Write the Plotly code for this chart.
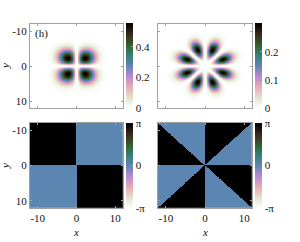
import numpy as np
import plotly.graph_objects as go

# ---- data / model parameters ----
extent = 12.0
n_grid = 241
lobe_angles = [[45, 135, 225, 315],
               [22.5, 67.5, 112.5, 157.5, 202.5, 247.5, 292.5, 337.5]]  # deg
lobe_radius = [3.2, 4.9]                      # distance of lobe cores from centre
lobe_radial_width = [2.5, 2.4]                # radial width of a lobe
lobe_tangential_width = [2.3, 1.5]            # tangential width of a lobe
nodal_angles = [[0, 90], [0, 45, 90, 135]]    # directions of the nodal lines (deg)
nodal_width = [0.8, 0.7]                      # healing length of the nodal lines
peaks = [0.55, 0.30]                          # peak density (colour range max)
density_ticks = [[0, 0.2, 0.4], [0, 0.1, 0.2]]
density_ticktext = [["0", "0.2", "0.4"], ["0", "0.1", "0.2"]]
phase_ticks = [-np.pi, 0, np.pi]
phase_ticktext = ["-π", "0", "π"]
axis_ticks = [-10, 0, 10]
axis_ticktext = ["-10", "0", "10"]
panel_label = "(h)"

colorscale = [
    [0.00, "rgb(255,255,255)"],
    [0.08, "rgb(232,240,222)"],
    [0.18, "rgb(232,200,190)"],
    [0.28, "rgb(225,160,185)"],
    [0.38, "rgb(180,135,215)"],
    [0.50, "rgb(92,134,178)"],
    [0.62, "rgb(55,128,118)"],
    [0.73, "rgb(50,100,50)"],
    [0.86, "rgb(62,42,30)"],
    [1.00, "rgb(0,0,0)"],
]

x = np.linspace(-extent, extent, n_grid)
y = np.linspace(-extent, extent, n_grid)
X, Y = np.meshgrid(x, y)

dens, phases = [], []
for m in range(2):
    blobs = np.zeros_like(X)
    for a in lobe_angles[m]:
        t = np.deg2rad(a)
        cx, cy = lobe_radius[m] * np.cos(t), lobe_radius[m] * np.sin(t)
        u = (X - cx) * np.cos(t) + (Y - cy) * np.sin(t)
        v = -(X - cx) * np.sin(t) + (Y - cy) * np.cos(t)
        blobs += np.exp(-u ** 2 / lobe_radial_width[m] ** 2
                        - v ** 2 / lobe_tangential_width[m] ** 2)
    nodes = np.ones_like(X)
    for a in nodal_angles[m]:
        t = np.deg2rad(a)
        dist = X * np.sin(t) - Y * np.cos(t)   # signed distance to nodal line
        nodes = nodes * np.tanh(dist / nodal_width[m])
    d = blobs * nodes ** 2
    dens.append(d / d.max() * peaks[m])
    phases.append(np.where(nodes < 0, np.pi, 0.0))

W, H = 300, 242
def px(a, b):
    return [a / W, b / W]
def py(top, bot):
    return [1 - bot / H, 1 - top / H]

xdom = [px(30, 123), px(158, 252)]
ydom = [py(24, 108), py(123, 208)]
cbx = [126 / W, 255 / W]

fig = go.Figure()
font = dict(family="Liberation Serif", size=11, color="#111")
frame = "#a0a0a0"

k = 0
for row in range(2):
    for col in range(2):
        k += 1
        xa = "x" if k == 1 else f"x{k}"
        ya = "y" if k == 1 else f"y{k}"
        yc = (ydom[row][0] + ydom[row][1]) / 2
        if row == 0:
            z = dens[col]
            zmin, zmax = 0, peaks[col]
            tv, tt = density_ticks[col], density_ticktext[col]
            smooth = "best"
        else:
            z = phases[col]
            zmin, zmax = -np.pi, np.pi
            tv, tt = phase_ticks, phase_ticktext
            smooth = False
        fig.add_trace(go.Heatmap(
            x=x, y=y, z=z, xaxis=xa, yaxis=ya, zmin=zmin, zmax=zmax,
            colorscale=colorscale, zsmooth=smooth, hoverinfo="skip",
            colorbar=dict(x=cbx[col], xanchor="left", y=yc, yanchor="middle",
                          thickness=7, lenmode="pixels", len=85,
                          outlinewidth=0, tickvals=tv, ticktext=tt,
                          ticks="inside", ticklen=2, tickcolor="#999",
                          tickfont=font, xpad=0, ypad=0),
        ))
        axkey_x = "xaxis" if k == 1 else f"xaxis{k}"
        axkey_y = "yaxis" if k == 1 else f"yaxis{k}"
        fig.layout[axkey_x] = dict(
            domain=xdom[col], range=[-extent, extent], anchor=ya,
            showline=True, linecolor=frame, linewidth=1, mirror="ticks",
            ticks="inside", ticklen=2, tickcolor=frame,
            tickvals=axis_ticks, ticktext=axis_ticktext,
            showticklabels=(row == 1), tickfont=font, showgrid=False, zeroline=False)
        fig.layout[axkey_y] = dict(
            domain=ydom[row], range=[extent, -extent], anchor=xa,
            showline=True, linecolor=frame, linewidth=1, mirror="ticks",
            ticks="inside", ticklen=2, tickcolor=frame,
            tickvals=axis_ticks, ticktext=axis_ticktext,
            showticklabels=(col == 0), tickfont=font, showgrid=False, zeroline=False)

ann = [
    dict(x=5 / W, y=1 - 66 / H, text="<i>y</i>", textangle=-90),
    dict(x=5 / W, y=1 - 166 / H, text="<i>y</i>", textangle=-90),
    dict(x=76 / W, y=1 - 232 / H, text="<i>x</i>"),
    dict(x=205 / W, y=1 - 232 / H, text="<i>x</i>"),
    dict(x=41 / W, y=1 - 33 / H, text=panel_label),
]
for a in ann:
    fig.add_annotation(xref="paper", yref="paper", showarrow=False,
                       xanchor="center", yanchor="middle", font=font, **a)

fig.update_layout(width=W, height=H, margin=dict(l=0, r=0, t=0, b=0),
                  paper_bgcolor="white", plot_bgcolor="white", showlegend=False)
fig.write_html("out.html", config={"displayModeBar": False},
               post_script="document.body.style.margin='0px';")
